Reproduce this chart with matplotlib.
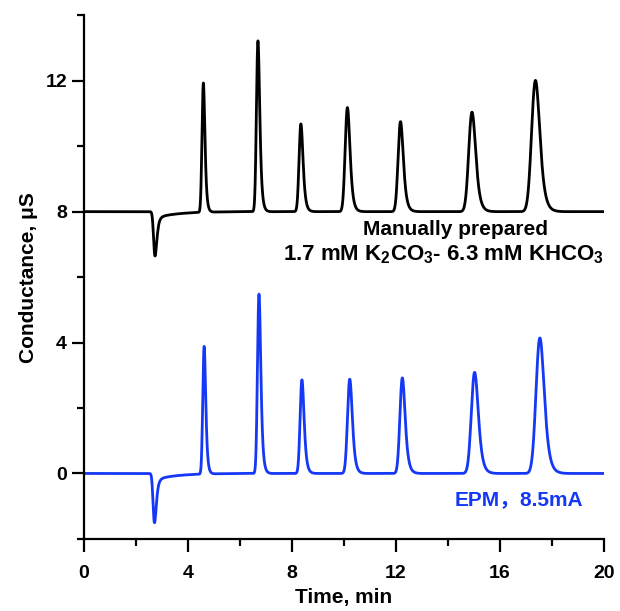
import numpy as np
import matplotlib.pyplot as plt
from matplotlib.ticker import MultipleLocator

plt.rcParams['font.family'] = ['Liberation Sans', 'Noto Sans CJK SC']
plt.rcParams['font.weight'] = 'bold'

# peak table (time in min, height in uS)
t_peaks_manual = [4.60, 6.70, 8.35, 10.14, 12.18, 14.93, 17.37]
h_peaks_manual = [3.95, 5.22, 2.68, 3.18, 2.75, 3.04, 4.01]
t_peaks_epm = [4.63, 6.74, 8.39, 10.23, 12.25, 15.03, 17.54]
h_peaks_epm = [3.90, 5.48, 2.86, 2.88, 2.92, 3.09, 4.14]
w_peaks = [0.045, 0.05, 0.06, 0.075, 0.08, 0.11, 0.13]     # gaussian sigma
tail_peaks = [0.05, 0.06, 0.07, 0.08, 0.09, 0.11, 0.13]    # exp tail
# water dip
t_dip_manual, h_dip_manual = 2.74, -1.35
t_dip_epm, h_dip_epm = 2.72, -1.50

offset_manual = 8.0
offset_epm = 0.0

t = np.arange(0, 20.0005, 0.002)


def emg(t, t0, h, s, tau):
    # gaussian convolved with exponential, rescaled so apex sits at t0 with height h
    dt = t[1] - t[0]
    g = np.exp(-0.5 * ((t - 10) / s) ** 2)
    k = np.exp(-np.arange(0, 8 * tau, dt) / tau)
    y = np.convolve(g, k)[:len(t)]
    i = np.argmax(y)
    y = y / y[i] * h
    shift = int(round((t0 - t[i]) / dt))
    return np.roll(y, shift)


def trace(t_p, h_p, t_d, h_d, off):
    y = np.zeros_like(t) + off
    for t0, h, s, tau in zip(t_p, h_p, w_peaks, tail_peaks):
        y += emg(t, t0, h, s, tau)
    y += emg(t, t_d, h_d, 0.045, 0.06)
    # slow recovery after the dip
    rec = np.where(t > t_d, -0.2 * np.exp(-(t - t_d) / 0.8), 0)
    rec = rec * np.clip((t - t_d) / 0.1, 0, 1)
    return y + rec


y_manual = trace(t_peaks_manual, h_peaks_manual, t_dip_manual, h_dip_manual, offset_manual)
y_epm = trace(t_peaks_epm, h_peaks_epm, t_dip_epm, h_dip_epm, offset_epm)

fig = plt.figure(figsize=(6.2, 6.11), dpi=100)
ax = fig.add_axes([0.135, 0.118, 0.839, 0.857])

blue = '#1438f5'
ax.plot(t, y_manual, color='black', lw=2.0)
ax.plot(t, y_epm, color=blue, lw=2.0)

ax.set_xlim(0, 20)
ax.set_ylim(-2, 14)
ax.xaxis.set_major_locator(MultipleLocator(4))
ax.xaxis.set_minor_locator(MultipleLocator(2))
ax.yaxis.set_major_locator(MultipleLocator(4))
ax.yaxis.set_minor_locator(MultipleLocator(2))
ax.spines['top'].set_visible(False)
ax.spines['right'].set_visible(False)
for s in ['left', 'bottom']:
    ax.spines[s].set_linewidth(1.6)
ax.tick_params(which='major', direction='out', length=9, width=1.6, labelsize=14)
ax.tick_params(which='minor', direction='out', length=5, width=1.6)
ax.tick_params(axis='x', which='major', pad=10)
ax.tick_params(axis='y', which='major', pad=3)

ax.set_xlabel('Time, min', fontsize=15, fontweight='bold', labelpad=4)
ax.set_ylabel('Conductance, μS', fontsize=15, fontweight='bold', labelpad=5)

ax.text(14.3, 7.45, 'Manually prepared', fontsize=15, fontweight='bold', ha='center', va='center')
ax.text(13.84, 6.68, r'1.7 mM K$_\mathregular{2}$CO$_\mathregular{3}$- 6.3 mM KHCO$_\mathregular{3}$',
        fontsize=16, fontweight='bold', ha='center', va='center')
ax.text(14.25, -0.8, 'EPM，8.5mA', fontsize=15, fontweight='bold', color=blue,
        ha='left', va='center')

fig.savefig('out.png', dpi=100)
